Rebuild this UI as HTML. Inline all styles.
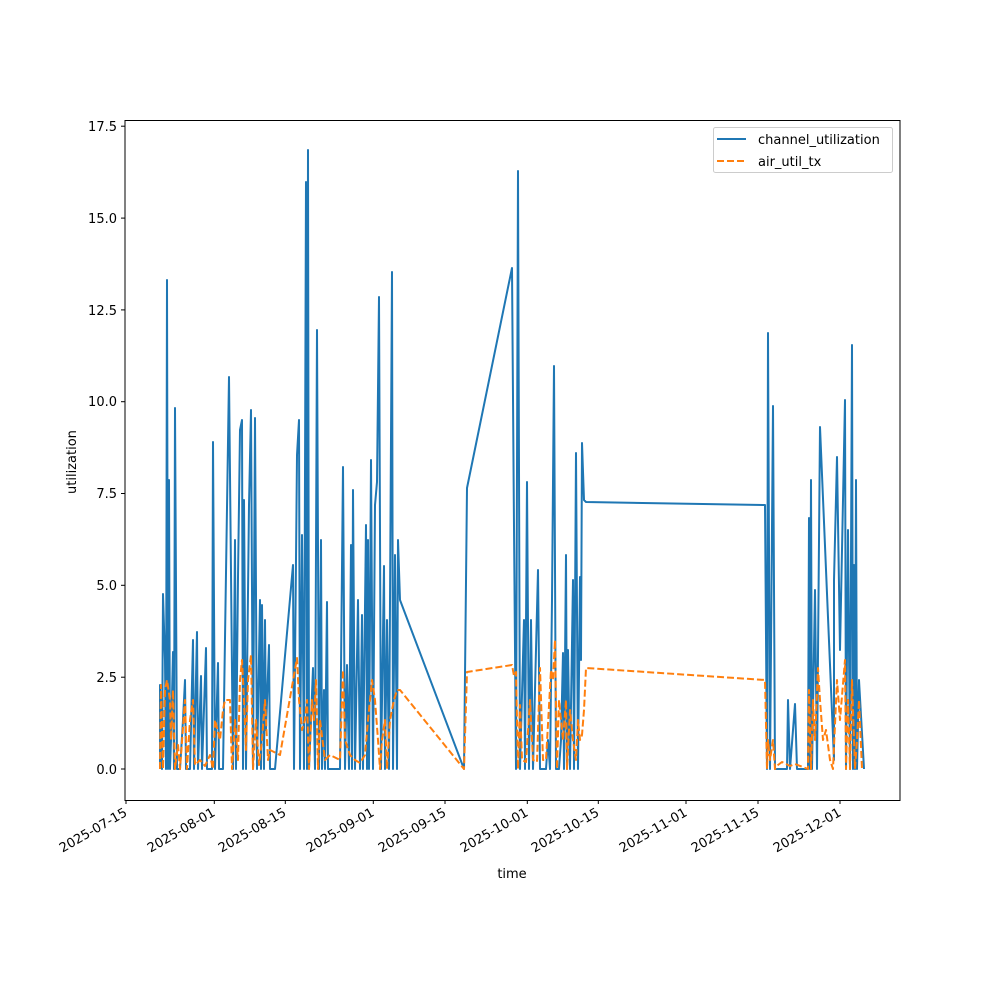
<!DOCTYPE html>
<html><head><meta charset="utf-8"><style>body{margin:0;background:#fff}svg{display:block}text{font-family:"DejaVu Sans","Liberation Sans",sans-serif;font-size:13px;fill:#000}</style></head><body>
<svg width="1000" height="1000" viewBox="0 0 1000 1000" xmlns="http://www.w3.org/2000/svg">
<rect width="1000" height="1000" fill="#fff"/>
<g fill="none" stroke-linejoin="round">
<polyline stroke="#1f77b4" stroke-width="2" points="160,769 160,685 162,769 163,594 165,660 166,769 167,280 168,769 169,480 170,769 171,740 173,652 174,769 175,408 177,769 180,769 183,720 185,680 186,769 190,769 193,640 194,769 197,632 198,769 201,676 202,769 206,648 207,769 212,769 213,442 215,769 218,663 219,769 223,769 229,377 233,769 235,540 236,769 238,577 240,430 242,420 243,769 244,500 246,769 249,505 251,410 253,769 255,418 257,769 260,600 261,769 262,605 264,769 265,620 266,730 269,645 270,769 275,769 293,565 294,769 297,455 299,420 300,769 302,535 304,769 306,182 307,769 308,150 309,769 311,720 313,668 315,769 317,330 319,769 321,540 322,769 324,690 325,769 327,602 328,769 340,769 343,467 345,769 347,665 349,769 351,545 352,769 353,490 355,769 358,600 360,769 362,615 363,769 366,525 367,769 368,540 369,769 371,460 373,769 375,505 377,482 379,297 381,769 384,566 385,769 387,620 389,769 392,272 393,769 395,555 397,769 398,540 400,600 464,769 467,488 512,268 514,527 516,769 518,171 520,769 524,620 525,769 527,482 529,769 531,620 533,769 538,570 540,769 546,769 548,740 550,769 552,600 554,366 556,769 559,769 561,740 563,653 564,769 566,555 567,769 568,650 570,769 573,580 574,769 576,453 578,769 580,577 581,660 582,443 584,500 586,502 765,505 767,769 768,333 770,769 773,406 775,769 780,769 787,769 788,700 790,769 795,704 797,769 808,769 809,518 810,769 811,480 812,769 815,590 817,769 820,427 834,760 834,580 837,457 840,650 845,400 846,769 848,530 850,769 852,345 853,769 854,565 855,769 856,480 857,769 859,680 864,769"/>
<polyline stroke="#ff7f0e" stroke-width="2" stroke-dasharray="7,3" points="160,769 161,685 163,769 165,690 167,680 170,700 171,740 173,690 175,769 178,745 180,769 185,700 187,769 190,720 193,700 195,765 200,760 205,766 210,755 213,769 215,720 220,740 223,710 225,700 230,700 232,769 235,720 238,760 240,680 242,660 244,700 246,750 248,680 251,655 253,769 256,720 259,765 262,740 265,700 268,760 270,750 280,755 297,658 299,700 302,730 305,720 307,700 309,769 312,700 314,720 316,680 318,769 320,720 325,760 330,755 340,760 343,670 345,740 350,755 355,760 360,763 365,755 368,720 372,680 375,700 378,740 380,769 382,740 385,720 387,769 390,720 394,700 397,690 400,690 464,769 467,672 512,665 514,676 516,672 518,769 520,705 522,760 526,762 530,700 533,760 537,762 540,668 543,760 546,760 551,670 553,680 555,640 557,769 559,700 563,740 566,700 567,769 570,710 573,740 576,760 578,720 580,740 582,735 584,710 586,668 765,680 767,769 768,740 770,760 773,740 775,769 778,765 782,762 790,766 795,764 808,769 809,690 811,769 813,700 815,740 818,668 820,700 823,740 826,730 830,760 833,769 837,680 840,720 845,660 846,769 848,700 850,769 852,680 855,769 857,740 859,700 862,769"/>
</g>
<rect x="125" y="120.5" width="775" height="680" fill="none" stroke="#000" stroke-width="1"/>
<g stroke="#000" stroke-width="1">
<line x1="125" x2="121" y1="769" y2="769"/><line x1="125" x2="121" y1="677.2" y2="677.2"/><line x1="125" x2="121" y1="585.3" y2="585.3"/><line x1="125" x2="121" y1="493.5" y2="493.5"/><line x1="125" x2="121" y1="401.7" y2="401.7"/><line x1="125" x2="121" y1="309.9" y2="309.9"/><line x1="125" x2="121" y1="218.1" y2="218.1"/><line x1="125" x2="121" y1="126.2" y2="126.2"/>
<line y1="800" y2="804" x1="126" x2="126"/><line y1="800" y2="804" x1="214.3" x2="214.3"/><line y1="800" y2="804" x1="285.3" x2="285.3"/><line y1="800" y2="804" x1="373.3" x2="373.3"/><line y1="800" y2="804" x1="445" x2="445"/><line y1="800" y2="804" x1="527.3" x2="527.3"/><line y1="800" y2="804" x1="598.3" x2="598.3"/><line y1="800" y2="804" x1="686" x2="686"/><line y1="800" y2="804" x1="758" x2="758"/><line y1="800" y2="804" x1="840" x2="840"/>
</g>
<g text-anchor="end">
<text x="117" y="774">0.0</text><text x="117" y="682">2.5</text><text x="117" y="590">5.0</text><text x="117" y="498">7.5</text><text x="117" y="406">10.0</text><text x="117" y="315">12.5</text><text x="117" y="223">15.0</text><text x="117" y="131">17.5</text>
<text transform="translate(128,815) rotate(-30)">2025-07-15</text>
<text transform="translate(216,815) rotate(-30)">2025-08-01</text>
<text transform="translate(287,815) rotate(-30)">2025-08-15</text>
<text transform="translate(375,815) rotate(-30)">2025-09-01</text>
<text transform="translate(447,815) rotate(-30)">2025-09-15</text>
<text transform="translate(529,815) rotate(-30)">2025-10-01</text>
<text transform="translate(600,815) rotate(-30)">2025-10-15</text>
<text transform="translate(688,815) rotate(-30)">2025-11-01</text>
<text transform="translate(760,815) rotate(-30)">2025-11-15</text>
<text transform="translate(842,815) rotate(-30)">2025-12-01</text>
</g>
<text x="512" y="878" text-anchor="middle">time</text>
<text transform="translate(76,462) rotate(-90)" text-anchor="middle">utilization</text>
<rect x="713.5" y="127.5" width="179" height="45" rx="2" fill="#fff" stroke="#ccc"/>
<line x1="717" x2="746" y1="139" y2="139" stroke="#1f77b4" stroke-width="2"/>
<line x1="717" x2="746" y1="161" y2="161" stroke="#ff7f0e" stroke-width="2" stroke-dasharray="7,3"/>
<text x="758" y="144">channel_utilization</text>
<text x="758" y="166">air_util_tx</text>
</svg>
</body></html>
